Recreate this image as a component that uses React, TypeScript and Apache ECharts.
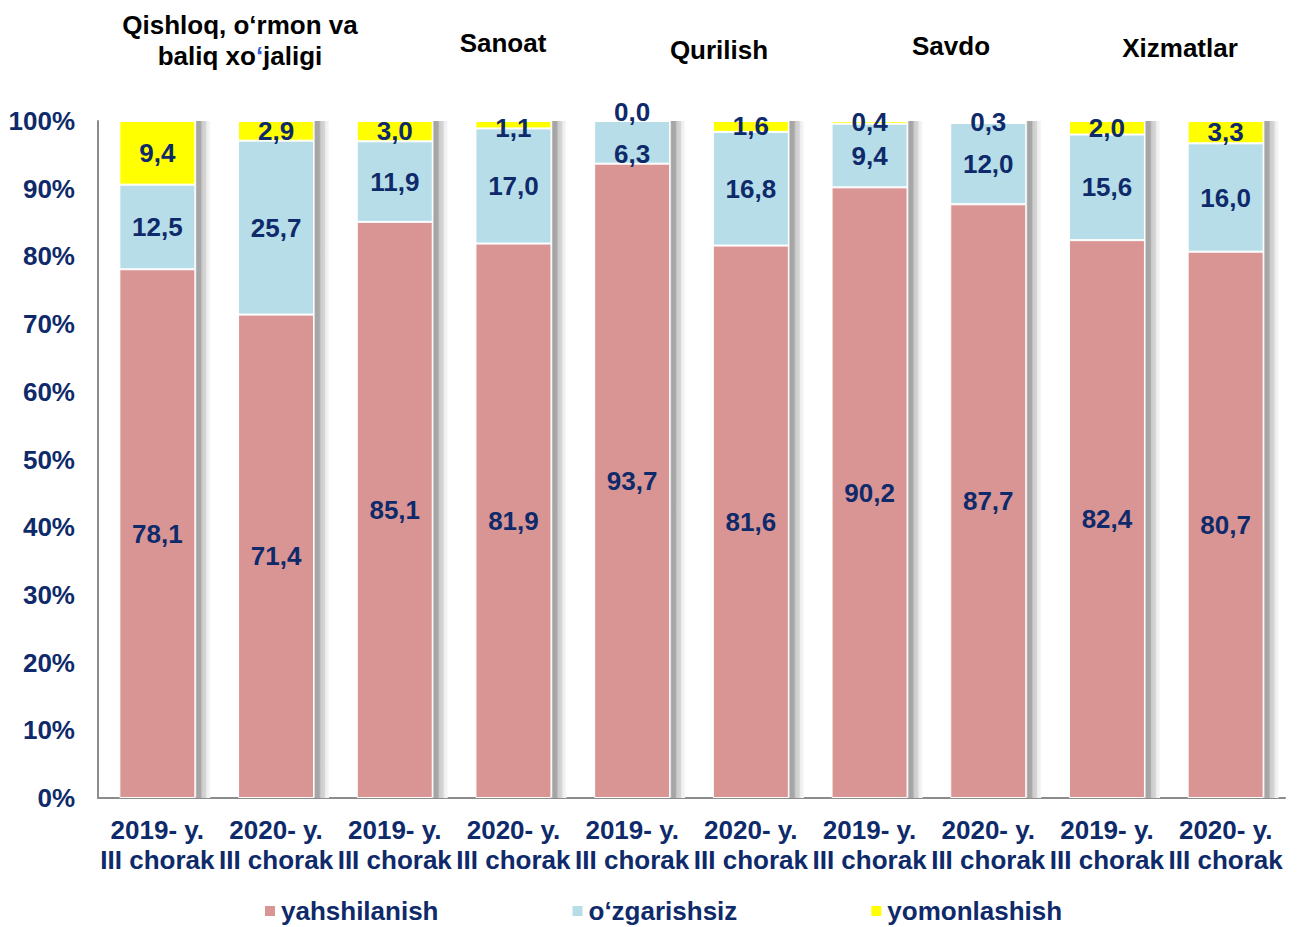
import React, { useEffect, useRef } from "react";
import * as echarts from "echarts";

const categories = [
  "2019- y.\nIII chorak", "2020- y.\nIII chorak",
  "2019- y.\nIII chorak", "2020- y.\nIII chorak",
  "2019- y.\nIII chorak", "2020- y.\nIII chorak",
  "2019- y.\nIII chorak", "2020- y.\nIII chorak",
  "2019- y.\nIII chorak", "2020- y.\nIII chorak",
];
const yahshilanish = [78.1, 71.4, 85.1, 81.9, 93.7, 81.6, 90.2, 87.7, 82.4, 80.7];
const ozgarishsiz = [12.5, 25.7, 11.9, 17.0, 6.3, 16.8, 9.4, 12.0, 15.6, 16.0];
const yomonlashish = [9.4, 2.9, 3.0, 1.1, 0.0, 1.6, 0.4, 0.3, 2.0, 3.3];
const seriesNames = ["yahshilanish", "o‘zgarishsiz", "yomonlashish"];
const groupTitles = ["Sanoat", "Qurilish", "Savdo", "Xizmatlar"];

const NAVY = "#0E2A6A";
const FONT = "'Liberation Sans', Arial, sans-serif";

const fmt = (v: number) => v.toFixed(1).replace(".", ",");

export default function App() {
  const ref = useRef<HTMLDivElement>(null);
  useEffect(() => {
    if (!ref.current) return;
    const chart = echarts.init(ref.current, null, { renderer: "svg" });
    const totals = categories.map((_, i) => yahshilanish[i] + ozgarishsiz[i] + yomonlashish[i]);
    const labelBase = {
      show: true,
      position: "inside",
      color: NAVY,
      fontSize: 26,
      fontWeight: "bold",
      fontFamily: FONT,
      formatter: (p: any) => fmt(p.value),
    };
    const mk = (arr: number[], offsets: Record<number, number[]>) =>
      arr.map((v, i) => (offsets[i] ? { value: v, label: { offset: offsets[i] } } : v));
    const titleStyle = {
      fill: "#000",
      fontSize: 26,
      fontWeight: "bold",
      fontFamily: FONT,
      textAlign: "center",
      textVerticalAlign: "middle",
    };
    const titlePos = [
      [503, 43],
      [719, 50],
      [951, 46],
      [1180, 48],
    ];
    const option: any = {
      animation: false,
      grid: { left: 98, right: 12, top: 121, bottom: 129 },
      legend: {
        data: seriesNames,
        left: 258,
        top: 893,
        icon: "rect",
        itemWidth: 12,
        itemHeight: 12,
        itemGap: 132,
        textStyle: { color: NAVY, fontSize: 26, fontWeight: "bold", fontFamily: FONT },
      },
      xAxis: {
        type: "category",
        data: categories,
        axisLine: { lineStyle: { color: "#8c8c8c", width: 2 } },
        axisTick: { show: false },
        axisLabel: {
          interval: 0,
          color: NAVY,
          fontSize: 26,
          fontWeight: "bold",
          fontFamily: FONT,
          lineHeight: 30,
          margin: 17,
        },
      },
      yAxis: {
        type: "value",
        min: 0,
        max: 100,
        interval: 10,
        axisLine: { show: true, lineStyle: { color: "#8c8c8c", width: 2 } },
        axisTick: { show: false },
        splitLine: { show: false },
        axisLabel: {
          formatter: "{value}%",
          color: NAVY,
          fontSize: 26,
          fontWeight: "bold",
          fontFamily: FONT,
          margin: 23,
        },
      },
      graphic: [
        {
          type: "text",
          x: 240,
          y: 25,
          style: { ...titleStyle, text: "Qishloq, o‘rmon va" },
        },
        {
          type: "text",
          x: 240,
          y: 56,
          style: {
            ...titleStyle,
            text: "baliq xo{b|‘}jaligi",
            rich: { b: { fill: "#2F5FD0", fontSize: 26, fontWeight: "bold", fontFamily: FONT } },
          },
        },
        ...groupTitles.map((t, i) => ({
          type: "text",
          x: titlePos[i][0],
          y: titlePos[i][1],
          style: { ...titleStyle, text: t },
        })),
      ],
      series: [
        {
          type: "custom",
          silent: true,
          data: totals.map((t, i) => [i, t]),
          renderItem: (params: any, api: any) => {
            const top = api.coord([api.value(0), api.value(1)]);
            const bottom = api.coord([api.value(0), 0]);
            return {
              type: "rect",
              shape: { x: top[0] + 38, y: top[1], width: 15, height: bottom[1] - top[1] },
              style: {
                fill: {
                  type: "linear",
                  x: 0, y: 0, x2: 1, y2: 0,
                  colorStops: [
                    { offset: 0, color: "#eeeeee" },
                    { offset: 0.1, color: "#a4a4a4" },
                    { offset: 0.35, color: "#a8a8a8" },
                    { offset: 0.45, color: "#cccccc" },
                    { offset: 0.7, color: "#d6d6d6" },
                    { offset: 0.75, color: "#ececec" },
                    { offset: 1, color: "#f8f8f8" },
                  ],
                },
              },
            };
          },
          z: 1,
        },
        {
          name: seriesNames[0],
          type: "bar",
          stack: "s",
          barWidth: 76,
          data: mk(yahshilanish, {}),
          itemStyle: { color: "#D99594", borderColor: "#fff", borderWidth: 1 },
          label: labelBase,
          z: 2,
        },
        {
          name: seriesNames[1],
          type: "bar",
          stack: "s",
          barWidth: 76,
          data: mk(ozgarishsiz, { 4: [0, 12] }),
          itemStyle: { color: "#B7DDE8", borderColor: "#fff", borderWidth: 1 },
          label: labelBase,
          z: 2,
        },
        {
          name: seriesNames[2],
          type: "bar",
          stack: "s",
          barWidth: 76,
          data: mk(yomonlashish, { 4: [0, -9], 3: [0, 3] }),
          itemStyle: { color: "#FFFF00", borderColor: "#fff", borderWidth: 1 },
          label: labelBase,
          z: 2,
        },
      ],
    };
    chart.setOption(option);
    return () => chart.dispose();
  }, []);
  return (
    <div
      ref={ref}
      style={{ position: "fixed", left: 0, top: 0, width: 1297, height: 927, background: "#fff" }}
    />
  );
}
